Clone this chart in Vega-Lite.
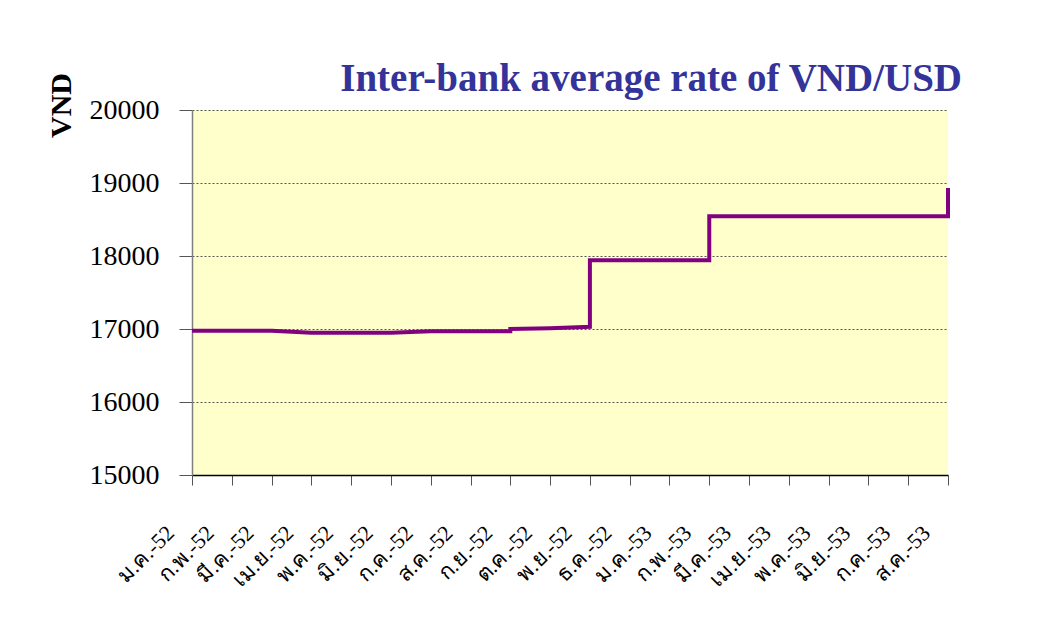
{
  "$schema": "https://vega.github.io/schema/vega-lite/v6.json",
  "width": 756,
  "height": 365,
  "autosize": {"type": "none"},
  "padding": {"left": 192, "top": 110, "right": 113, "bottom": 152},
  "background": "white",
  "title": {
    "text": "Inter-bank average rate of VND/USD",
    "anchor": "end",
    "dx": 6,
    "dy": 77,
    "offset": 20,
    "baseline": "alphabetic",
    "font": "Liberation Serif",
    "fontSize": 39,
    "fontWeight": "bold",
    "color": "#333399"
  },
  "config": {
    "view": {"fill": "#FFFFCC", "stroke": null},
    "axis": {"labelFont": "Liberation Serif", "titleFont": "Liberation Serif"}
  },
  "data": {
    "values": [
      {"seq": 1, "month": "ม.ค.-52", "rate": 16975},
      {"seq": 2, "month": "ก.พ.-52", "rate": 16975},
      {"seq": 3, "month": "มี.ค.-52", "rate": 16975},
      {"seq": 4, "month": "เม.ย.-52", "rate": 16950},
      {"seq": 5, "month": "พ.ค.-52", "rate": 16950},
      {"seq": 6, "month": "มิ.ย.-52", "rate": 16950},
      {"seq": 7, "month": "ก.ค.-52", "rate": 16970},
      {"seq": 8, "month": "ส.ค.-52", "rate": 16970},
      {"seq": 9, "month": "ก.ย.-52", "rate": 16970},
      {"seq": 10, "month": "ก.ย.-52", "rate": 17000},
      {"seq": 11, "month": "ต.ค.-52", "rate": 17010},
      {"seq": 12, "month": "พ.ย.-52", "rate": 17030},
      {"seq": 13, "month": "พ.ย.-52", "rate": 17941},
      {"seq": 14, "month": "ธ.ค.-52", "rate": 17941},
      {"seq": 15, "month": "ม.ค.-53", "rate": 17941},
      {"seq": 16, "month": "ก.พ.-53", "rate": 17941},
      {"seq": 17, "month": "ก.พ.-53", "rate": 18544},
      {"seq": 18, "month": "มี.ค.-53", "rate": 18544},
      {"seq": 19, "month": "เม.ย.-53", "rate": 18544},
      {"seq": 20, "month": "พ.ค.-53", "rate": 18544},
      {"seq": 21, "month": "มิ.ย.-53", "rate": 18544},
      {"seq": 22, "month": "ก.ค.-53", "rate": 18544},
      {"seq": 23, "month": "ส.ค.-53", "rate": 18544},
      {"seq": 24, "month": "ส.ค.-53", "rate": 18932}
    ]
  },
  "mark": {"type": "line", "color": "#800080", "strokeWidth": 4, "strokeJoin": "miter"},
  "encoding": {
    "x": {
      "field": "month",
      "type": "ordinal",
      "scale": {
        "type": "point",
        "padding": 0,
        "domain": ["ม.ค.-52","ก.พ.-52","มี.ค.-52","เม.ย.-52","พ.ค.-52","มิ.ย.-52","ก.ค.-52","ส.ค.-52","ก.ย.-52","ต.ค.-52","พ.ย.-52","ธ.ค.-52","ม.ค.-53","ก.พ.-53","มี.ค.-53","เม.ย.-53","พ.ค.-53","มิ.ย.-53","ก.ค.-53","ส.ค.-53"]
      },
      "axis": {
        "title": null,
        "labelAngle": -45,
        "labelAlign": "right",
        "labelBaseline": "middle",
        "labelOffset": -22,
        "labelPadding": 44,
        "labelFontSize": 22,
        "labelColor": "black",
        "labelOverlap": false,
        "labelBound": false,
        "tickSize": 10,
        "tickColor": "#555555",
        "domainColor": "black",
        "domainWidth": 1.5,
        "grid": false
      }
    },
    "y": {
      "field": "rate",
      "type": "quantitative",
      "scale": {"domain": [15000, 20000], "nice": false, "zero": false},
      "axis": {
        "values": [15000, 16000, 17000, 18000, 19000, 20000],
        "format": "d",
        "title": "VND",
        "titleFontSize": 30,
        "titleFontWeight": "bold",
        "titleColor": "black",
        "titleAngle": -90,
        "titleAlign": "center",
        "titleBaseline": "middle",
        "titleX": -131,
        "titleY": -5,
        "labelFontSize": 28,
        "labelColor": "black",
        "labelPadding": 20,
        "tickSize": 13,
        "tickColor": "#555555",
        "domainColor": "#808080",
        "domainWidth": 1.5,
        "grid": true,
        "gridColor": "#555555",
        "gridDash": [2, 2],
        "gridWidth": 1
      }
    },
    "order": {"field": "seq", "type": "quantitative"}
  }
}
